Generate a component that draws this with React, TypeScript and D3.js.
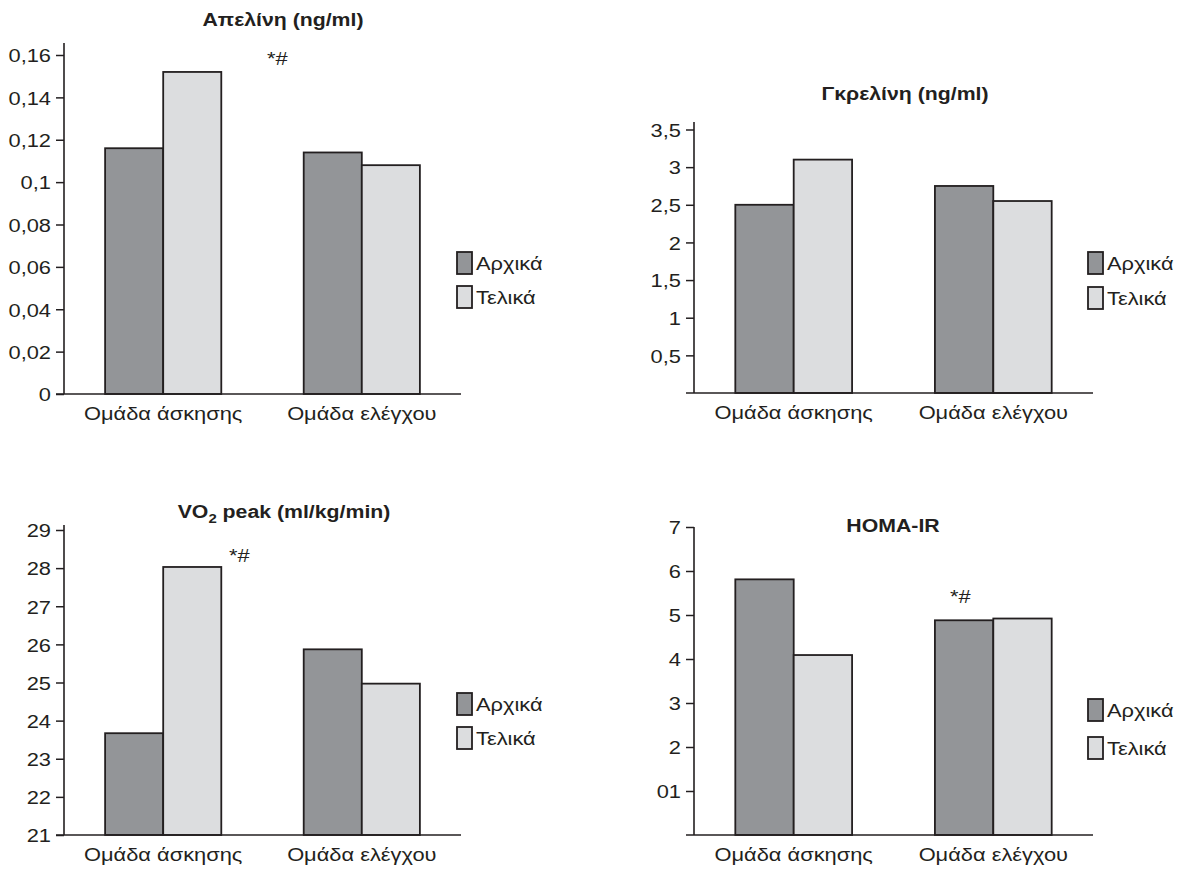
import React, { useRef, useEffect } from 'react';
import * as d3 from 'd3';

// categories and series
const groups = ['Ομάδα άσκησης', 'Ομάδα ελέγχου'];
const seriesNames = ['Αρχικά', 'Τελικά'];
const seriesColors = ['#939598', '#dcdddf'];

// Απελίνη
const apelinInitial = [0.116, 0.114];
const apelinFinal = [0.152, 0.108];
const apelinTicks = [0, 0.02, 0.04, 0.06, 0.08, 0.1, 0.12, 0.14, 0.16];
const apelinTickLabels = ['0', '0,02', '0,04', '0,06', '0,08', '0,1', '0,12', '0,14', '0,16'];

// Γκρελίνη
const ghrelinInitial = [2.5, 2.75];
const ghrelinFinal = [3.1, 2.55];
const ghrelinTicks = [0.5, 1, 1.5, 2, 2.5, 3, 3.5];
const ghrelinTickLabels = ['0,5', '1', '1,5', '2', '2,5', '3', '3,5'];

// VO2 peak
const vo2Initial = [23.67, 25.87];
const vo2Final = [28.03, 24.97];
const vo2Ticks = [21, 22, 23, 24, 25, 26, 27, 28, 29];
const vo2TickLabels = ['21', '22', '23', '24', '25', '26', '27', '28', '29'];

// HOMA-IR
const homaInitial = [5.81, 4.88];
const homaFinal = [4.09, 4.92];
const homaTicks = [1, 2, 3, 4, 5, 6, 7];
const homaTickLabels = ['01', '2', '3', '4', '5', '6', '7'];

const FONT = '"Liberation Sans", Arial, Helvetica, sans-serif';
const INK = '#231f20';
const SX = 1.15; // the original lettering is a bit wide

const panels = [
  {
    title: ['Απελίνη (ng/ml)'], values: [apelinInitial, apelinFinal],
    ticks: apelinTicks, tickLabels: apelinTickLabels, domain: [0, 0.16],
    left: 64, right: 461, bottom: 394, top: 55, axisTop: 43,
    titleX: 283, titleY: 26, legendX: 457, legendY: 252, legendGap: 34,
    note: { x: 267, y: 65 },
  },
  {
    title: ['Γκρελίνη (ng/ml)'], values: [ghrelinInitial, ghrelinFinal],
    ticks: ghrelinTicks, tickLabels: ghrelinTickLabels, domain: [0, 3.5],
    left: 694, right: 1093, bottom: 393, top: 129.5, axisTop: 122,
    titleX: 905, titleY: 100, legendX: 1088, legendY: 252, legendGap: 35,
    note: null,
  },
  {
    title: ['VO', '2', ' peak (ml/kg/min)'], values: [vo2Initial, vo2Final],
    ticks: vo2Ticks, tickLabels: vo2TickLabels, domain: [21, 29],
    left: 64, right: 461, bottom: 835, top: 530, axisTop: 525,
    titleX: 284, titleY: 518, legendX: 457, legendY: 693, legendGap: 34,
    note: { x: 229, y: 562 },
  },
  {
    title: ['HOMA-IR'], values: [homaInitial, homaFinal],
    ticks: homaTicks, tickLabels: homaTickLabels, domain: [0, 7],
    left: 694, right: 1093, bottom: 835, top: 527, axisTop: 527,
    titleX: 893, titleY: 532, legendX: 1088, legendY: 699, legendGap: 38,
    note: { x: 950, y: 603 },
  },
];

const place = (sel, x, y) => sel.attr('transform', `translate(${x},${y}) scale(${SX},1)`);

function drawPanel(g, p) {
  const y = d3.scaleLinear().domain(p.domain).range([p.bottom, p.top]);
  const x0 = d3.scaleBand().domain(groups).range([p.left, p.right])
    .paddingInner(0.415).paddingOuter(0.207);
  const x1 = d3.scaleBand().domain(seriesNames).range([0, x0.bandwidth()]);

  // bars
  groups.forEach((grp, gi) => {
    seriesNames.forEach((s, si) => {
      const v = p.values[si][gi];
      g.append('rect')
        .attr('x', x0(grp) + x1(s))
        .attr('y', y(v))
        .attr('width', x1.bandwidth())
        .attr('height', y(p.domain[0]) - y(v))
        .attr('fill', seriesColors[si])
        .attr('stroke', INK)
        .attr('stroke-width', 1.8);
    });
  });

  // y axis
  const ax = g.append('g')
    .attr('transform', `translate(${p.left},0)`)
    .call(d3.axisLeft(y).tickValues(p.ticks).tickFormat((d, i) => p.tickLabels[i]).tickSize(8).tickSizeOuter(0));
  ax.select('.domain').remove();
  ax.selectAll('line').attr('stroke', INK).attr('stroke-width', 1.5);
  ax.selectAll('text').each(function () {
    const t = d3.select(this);
    t.attr('x', null).attr('dy', '0.36em')
      .attr('fill', INK).style('font-family', FONT).style('font-size', '19px');
    place(t, -13, 0);
  });

  g.append('line')
    .attr('x1', p.left).attr('x2', p.left)
    .attr('y1', p.axisTop).attr('y2', p.bottom)
    .attr('stroke', INK).attr('stroke-width', 1.6);
  g.append('line')
    .attr('x1', p.left - 8).attr('x2', p.right)
    .attr('y1', p.bottom).attr('y2', p.bottom)
    .attr('stroke', INK).attr('stroke-width', 1.6);

  // category labels
  groups.forEach(grp => {
    const t = g.append('text')
      .attr('text-anchor', 'middle')
      .attr('fill', INK)
      .style('font-family', FONT).style('font-size', '19px')
      .text(grp);
    place(t, x0(grp) + x0.bandwidth() / 2, p.bottom + 26);
  });

  // title
  const title = g.append('text')
    .attr('text-anchor', 'middle')
    .attr('fill', INK)
    .style('font-family', FONT).style('font-size', '18.5px').style('font-weight', 'bold');
  if (p.title.length === 3) {
    title.append('tspan').text(p.title[0]);
    title.append('tspan').attr('dy', 5).style('font-size', '13px').text(p.title[1]);
    title.append('tspan').attr('dy', -5).text(p.title[2]);
  } else {
    title.text(p.title[0]);
  }
  place(title, p.titleX, p.titleY);

  // significance mark
  if (p.note) {
    const n = g.append('text')
      .attr('fill', INK)
      .style('font-family', FONT).style('font-size', '19px')
      .text('*#');
    place(n, p.note.x, p.note.y);
  }

  // legend
  seriesNames.forEach((s, si) => {
    const ly = p.legendY + si * p.legendGap;
    g.append('rect')
      .attr('x', p.legendX).attr('y', ly)
      .attr('width', 15).attr('height', 22)
      .attr('fill', seriesColors[si])
      .attr('stroke', INK).attr('stroke-width', 1.8);
    const t = g.append('text')
      .attr('fill', INK)
      .style('font-family', FONT).style('font-size', '19px')
      .text(s);
    place(t, p.legendX + 19, ly + 18);
  });
}

export default function App() {
  const ref = useRef(null);

  useEffect(() => {
    const svg = d3.select(ref.current);
    svg.selectAll('*').remove();
    panels.forEach(p => drawPanel(svg.append('g'), p));
  }, []);

  return (
    <svg
      ref={ref}
      width={1185}
      height={870}
      style={{ position: 'absolute', left: 0, top: 0, background: '#fff' }}
    />
  );
}
